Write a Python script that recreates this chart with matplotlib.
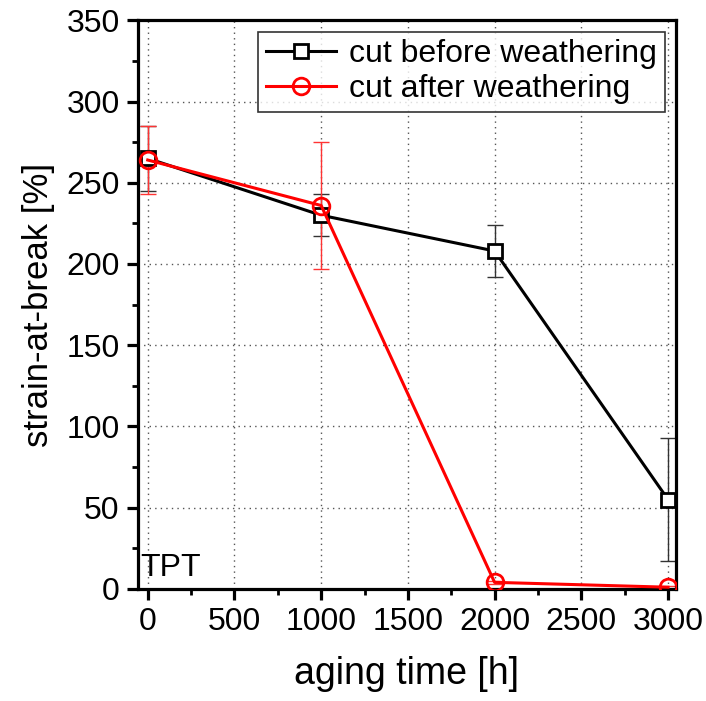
import matplotlib
matplotlib.use('Agg')
import matplotlib.pyplot as plt
from matplotlib.ticker import MultipleLocator

plt.rcParams['font.family'] = ['Liberation Sans', 'DejaVu Sans']

aging_time = [0, 1000, 2000, 3000]
before_mean = [265, 230, 208, 55]
before_err = [20, 13, 16, 38]
after_mean = [264, 236, 4, 1]
after_err = [21, 39, 1, 1]

fig = plt.figure(figsize=(7.06, 7.01), dpi=100)
ax = fig.add_axes([0.195, 0.16, 0.7625, 0.811])

# error bars first, lines + markers on top (legend without bars)
ax.errorbar(aging_time, before_mean, yerr=before_err, fmt='none',
            ecolor='#333333', elinewidth=1, capsize=6, capthick=1, zorder=2)
ax.errorbar(aging_time, after_mean, yerr=after_err, fmt='none',
            ecolor='#ff3333', elinewidth=1, capsize=6, capthick=1, zorder=2)
ax.plot(aging_time, before_mean, color='black', lw=2.2,
        marker='s', ms=10.5, mfc='white', mec='black', mew=2,
        label='cut before weathering', zorder=3)
ax.plot(aging_time, after_mean, color='#ff0000', lw=2.2,
        marker='o', ms=12, mfc='none', mec='#ff0000', mew=2,
        label='cut after weathering', zorder=4)

ax.set_xlim(-58, 3046)
ax.set_ylim(0, 350)
ax.xaxis.set_major_locator(MultipleLocator(500))
ax.xaxis.set_minor_locator(MultipleLocator(250))
ax.yaxis.set_major_locator(MultipleLocator(50))
ax.yaxis.set_minor_locator(MultipleLocator(25))
ax.grid(True, which='major', ls=(0, (1, 3)), color='#555555', lw=1)

for s in ax.spines.values():
    s.set_linewidth(2.3)
ax.tick_params(which='major', direction='out', length=8, width=2.3,
               labelsize=23, top=False, right=False, pad=5)
ax.tick_params(which='minor', direction='out', length=4, width=2,
               top=False, right=False)

ax.set_xlabel('aging time [h]', fontsize=27, labelpad=14)
ax.set_ylabel('strain-at-break [%]', fontsize=25, labelpad=8)

ax.text(0.005, 0.01, 'TPT', transform=ax.transAxes, fontsize=23,
        ha='left', va='bottom')

leg = ax.legend(loc='upper right', fontsize=23, frameon=True, fancybox=False,
                edgecolor='black', borderaxespad=0.35, handlelength=2.2,
                handletextpad=0.4, borderpad=0.25, labelspacing=0.15)
leg.get_frame().set_linewidth(1.2)

fig.savefig('out.png', dpi=100)
